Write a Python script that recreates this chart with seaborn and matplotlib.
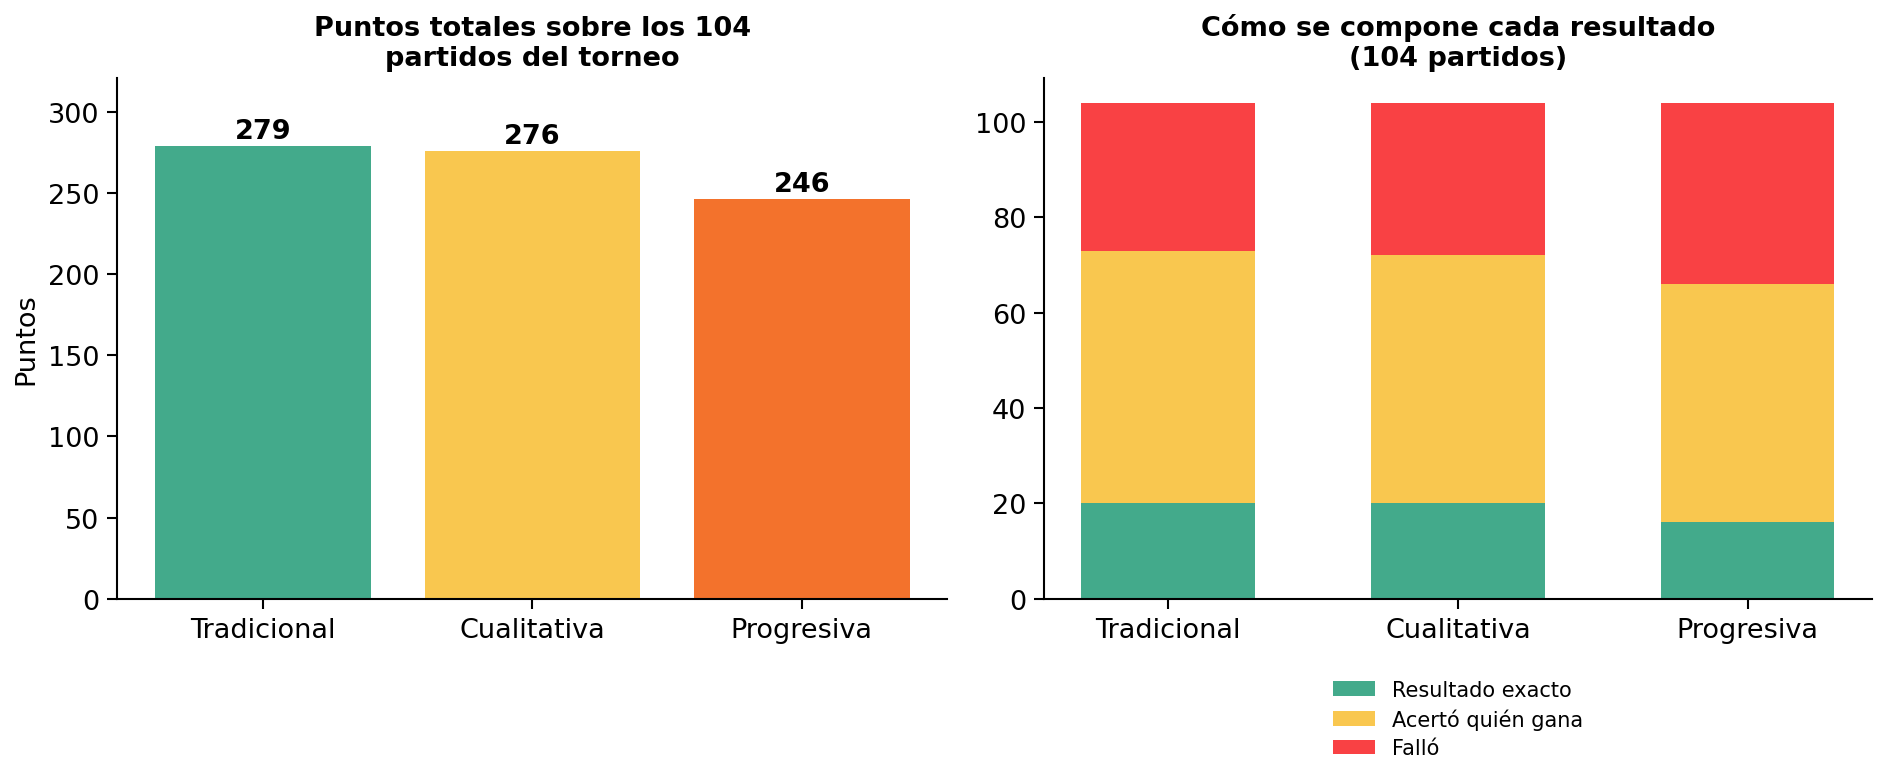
import pandas as pd
import seaborn as sns
import matplotlib.pyplot as plt

metodos = ['Tradicional', 'Cualitativa', 'Progresiva']
puntos = [279, 276, 246]
exactos = [20, 20, 16]
acerto_ganador = [53, 52, 50]
fallos = [31, 32, 38]
total_partidos = 104

colores = ['#43AA8B', '#F9C74F', '#F3722C']
c_exacto, c_ganador, c_fallo = '#43AA8B', '#F9C74F', '#F94144'

sns.set_style('white')
plt.rcParams['font.family'] = ['DejaVu Sans']
for k in ('text.color', 'axes.labelcolor', 'xtick.color', 'ytick.color'):
    plt.rcParams[k] = 'black'

df = pd.DataFrame({
    'metodo': metodos,
    'puntos': puntos,
    'exacto': exactos,
    'ganador': acerto_ganador,
    'fallo': fallos,
})
# alturas acumuladas para apilar
df['hasta_ganador'] = df['exacto'] + df['ganador']
df['hasta_fallo'] = df['hasta_ganador'] + df['fallo']

fig = plt.figure(figsize=(1891 / 150, 782 / 150), dpi=150)
ax1 = fig.add_axes([0.062, 0.233, 0.439, 0.666])
ax2 = fig.add_axes([0.552, 0.233, 0.438, 0.666])

# panel izquierdo: puntos totales
sns.barplot(data=df, x='metodo', y='puntos', hue='metodo', palette=colores,
            legend=False, width=0.8, saturation=1, linewidth=0, ax=ax1)
for cont in ax1.containers:
    ax1.bar_label(cont, fontsize=13, fontweight='bold', padding=1)
ax1.set_xlim(-0.54, 2.54)
ax1.set_ylim(0, max(puntos) * 1.15)
ax1.set_title('Puntos totales sobre los 104\npartidos del torneo',
              fontsize=13, fontweight='bold')
ax1.set_xlabel('')
ax1.set_ylabel('Puntos', fontsize=13)

# panel derecho: barras apiladas (se dibujan de la más alta a la más baja)
sns.barplot(data=df, x='metodo', y='hasta_fallo', color=c_fallo, width=0.6,
            saturation=1, linewidth=0, label='Falló', ax=ax2)
sns.barplot(data=df, x='metodo', y='hasta_ganador', color=c_ganador, width=0.6,
            saturation=1, linewidth=0, label='Acertó quién gana', ax=ax2)
sns.barplot(data=df, x='metodo', y='exacto', color=c_exacto, width=0.6,
            saturation=1, linewidth=0, label='Resultado exacto', ax=ax2)
ax2.set_xlim(-0.43, 2.43)
ax2.set_ylim(0, total_partidos * 1.05)
ax2.set_title('Cómo se compone cada resultado\n(104 partidos)',
              fontsize=13, fontweight='bold')
ax2.set_xlabel('')
ax2.set_ylabel('')

handles, labels = ax2.get_legend_handles_labels()
ax2.legend(handles[::-1], labels[::-1], loc='upper center',
           bbox_to_anchor=(0.5, -0.12), frameon=False, fontsize=10,
           labelspacing=0.4)

for ax in (ax1, ax2):
    sns.despine(ax=ax)
    ax.tick_params(axis='both', labelsize=13, length=5, width=1, bottom=True, left=True)
    for s in ('left', 'bottom'):
        ax.spines[s].set_color('black')
        ax.spines[s].set_linewidth(1)

fig.savefig('out.png', dpi=150)
